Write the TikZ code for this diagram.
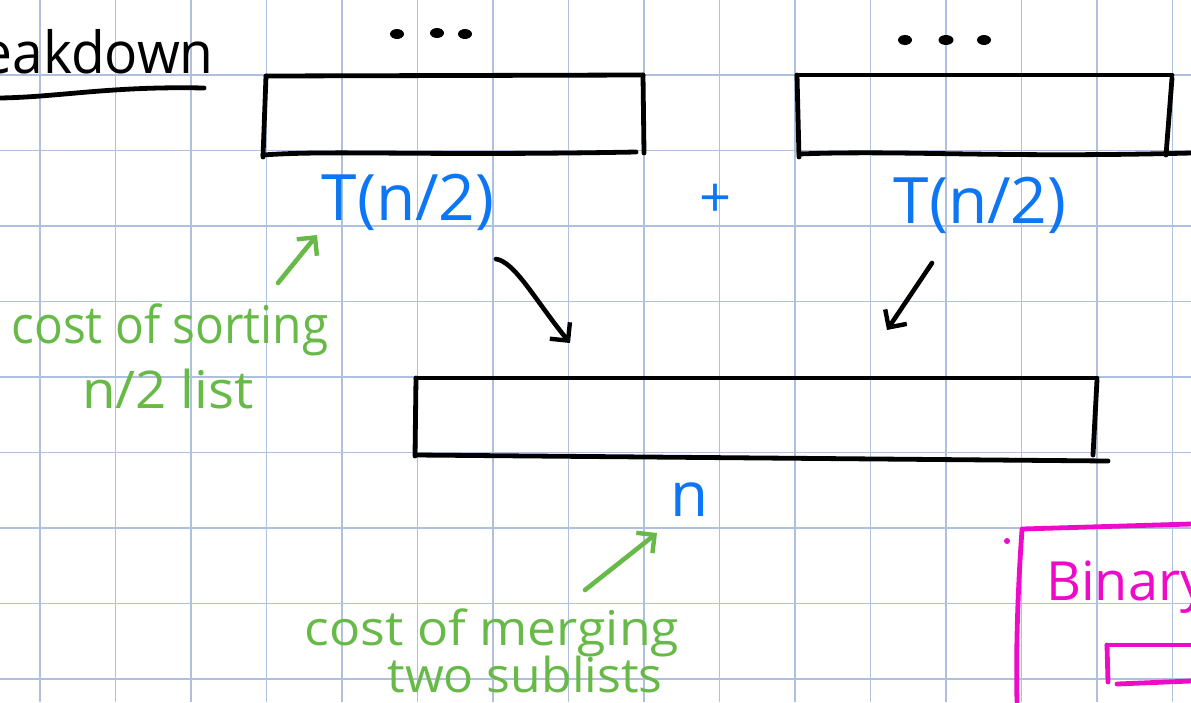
\documentclass[tikz,border=0pt]{standalone}
\usepackage{fontspec}
\setmainfont{Open Sans}
\usetikzlibrary{arrows.meta}
\definecolor{gridc}{RGB}{174,192,222}
\definecolor{inkblue}{RGB}{12,118,245}
\definecolor{inkgreen}{RGB}{104,186,72}
\definecolor{inkpink}{RGB}{238,10,200}
\begin{document}
\begin{tikzpicture}[x=1pt,y=-1pt,
  ink/.style={line width=4.8pt,line cap=round,line join=round},
  thinink/.style={line width=4.6pt,line cap=round,line join=round},
  barb/.style={-{Straight Barb[length=13pt,width=26pt,line width=4.4pt]}},
  bluetext/.style={text=inkblue,inner sep=0pt,font=\fontsize{64}{64}\selectfont},
  greentext/.style={text=inkgreen,inner sep=0pt,font=\fontsize{52}{52}\selectfont},
  gridline/.style={draw=gridc,line width=1.3pt}]
\useasboundingbox (0,0) rectangle (1191,702);
\clip (0,0) rectangle (1191,702);
\fill[white] (0,0) rectangle (1191,702);
% grid
\foreach \x in {40,115.5,...,1200} \draw[gridline] (\x,0) -- (\x,702);
\foreach \y in {75,150.5,...,700} \draw[gridline] (0,\y) -- (1191,\y);

% title
\node[anchor=base east,inner sep=0pt,font=\fontsize{58}{58}\selectfont] (title) at (214,73) {\scalebox{0.95}[1]{Breakdown}};
\draw[ink] (0,98) .. controls (60,97) and (110,86) .. (204,88);

% top-left box
\draw[ink] (266,76) -- (643,75);
\draw[ink] (266,76) -- (263,157);
\draw[ink] (263,155) .. controls (330,150) and (420,156) .. (636,152);
\draw[ink] (643,75) -- (644,153);
% dots
\fill (397,34) ellipse (7pt and 5pt);
\fill (437,33) ellipse (7pt and 5pt);
\fill (465,34) ellipse (7pt and 5pt);

% top-right box
\draw[ink] (797,75) -- (1172,75);
\draw[ink] (797,75) -- (799,157);
\draw[ink] (799,154) .. controls (900,150) and (1000,158) .. (1191,153);
\draw[ink] (1172,78) -- (1166,155);
\fill (905,40) ellipse (7pt and 5pt);
\fill (946,40) ellipse (7.5pt and 5pt);
\fill (984,40) ellipse (7pt and 5pt);

% labels
\node[bluetext] (t1) at (408,202) {T(n/2)};
\node[bluetext,font=\fontsize{56}{56}\selectfont] (plus) at (716,201) {+};
\node[bluetext] (t2) at (980,205) {T(n/2)};

% merged box
\draw[ink] (416,378) -- (1097,378);
\draw[ink] (416,378) -- (415,456);
\draw[ink] (416,455) -- (1108,461);
\draw[ink] (1097,380) -- (1093,455);

\node[bluetext,font=\fontsize{62}{62}\selectfont] (n) at (690,500) {n};

% black arrows
\coordinate (a1s) at (496,259);
\coordinate (a1e) at (570,343);
\draw[thinink,barb] (a1s) .. controls (515,262) and (535,300) .. (a1e);
\coordinate (a2s) at (932,263);
\coordinate (a2e) at (887,330);
\draw[thinink,barb] (a2s) -- (a2e);

% green annotations
\node[greentext,anchor=base] (sort1) at (170,343) {\scalebox{0.92}[1]{cost of sorting}};
\node[greentext,anchor=base] (sort2) at (168,408) {\scalebox{1.05}[1]{n/2 list}};
\coordinate (g1s) at (278,283);
\coordinate (g1e) at (317,235);
\draw[thinink,draw=inkgreen,barb] (g1s) -- (g1e);

\node[greentext,anchor=base,font=\fontsize{48}{48}\selectfont] (merge1) at (492,645) {\scalebox{1.08}[1]{cost of merging}};
\node[greentext,anchor=base,font=\fontsize{48}{48}\selectfont] (merge2) at (525,692) {\scalebox{1.04}[1]{two sublists}};
\coordinate (g2s) at (585,590);
\coordinate (g2e) at (657,533);
\draw[thinink,draw=inkgreen,barb] (g2s) -- (g2e);

% magenta box
\draw[ink,draw=inkpink] (1022,529) -- (1191,524);
\draw[ink,draw=inkpink] (1022,530) .. controls (1017,600) and (1016,660) .. (1017,702);
\fill[inkpink] (1007,541) circle (3pt);
\node[anchor=base west,inner sep=0pt,text=inkpink,font=\fontsize{54}{54}\selectfont] (binary) at (1046,600) {Binary};
\draw[ink,draw=inkpink] (1107,645) -- (1191,645);
\draw[ink,draw=inkpink] (1107,645) -- (1108,682);
\draw[ink,draw=inkpink] (1117,684) -- (1191,681);
\end{tikzpicture}
\end{document}
